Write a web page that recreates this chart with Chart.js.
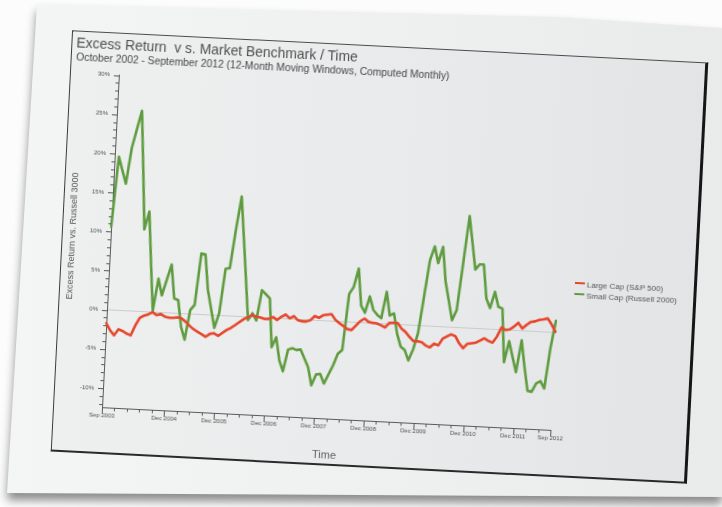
<!DOCTYPE html>
<html>
<head>
<meta charset="utf-8">
<title>Excess Return vs. Market Benchmark / Time</title>
<script src="https://cdn.jsdelivr.net/npm/chart.js@4/dist/chart.umd.min.js"></script>
<style>
  html, body { margin: 0; padding: 0; }
  body {
    width: 722px; height: 507px; overflow: hidden; position: relative;
    background: #fcfcfc;
    font-family: "Liberation Sans", Arial, sans-serif;
  }
  #sheetWrap {
    position: absolute; left: 0; top: 0; width: 722px; height: 507px;
    filter: drop-shadow(0 7px 5px rgba(0,0,0,0.45));
  }
  #sheet {
    position: absolute; left: 0; top: 0; width: 722px; height: 507px;
    background: linear-gradient(90deg, #f4f5f5 0%, #eeefef 60%, #e9eaea 100%);
    clip-path: polygon(37px 4px, 560px 17px, 722px 28px, 722px 497px, 717px 497px, 7px 493px);
  }
  #frame {
    position: absolute; left: 61px; top: 46px; width: 637px; height: 422px;
    box-sizing: border-box;
    border-left: 1px solid #3c3c3c;
    border-top: 1px solid #4c4c4c;
    border-right: 3px solid #161616;
    border-bottom: 2px solid #2a2a2a;
    background: linear-gradient(90deg, #eeefef 0%, #e9eaeb 55%, #e3e4e5 100%);
    transform: rotate(2.9deg);
    transform-origin: 50% 50%;
  }
  #chart { position: absolute; left: 0; top: 0; }
  .txt { position: absolute; white-space: nowrap; line-height: 1; }
  #title { left: 4px; top: 4.8px; font-size: 13.9px; color: #505050; }
  #subtitle { left: 4.5px; top: 21.2px; font-size: 10.3px; color: #474747; }
  #yTitle {
    left: -89.6px; top: 200px; width: 200px; text-align: center;
    font-size: 9px; color: #555; transform: rotate(-90deg);
  }
  #xTitle { left: 222px; top: 405px; width: 100px; text-align: center; font-size: 11px; color: #626262; }
  #legend { position: absolute; left: 514px; top: 221.5px; font-size: 8px; color: #555; }
  #legend div { height: 11px; line-height: 11px; white-space: nowrap; }
  #legend span.sw { display: inline-block; width: 10px; height: 2px; vertical-align: middle; margin-right: 2px; position: relative; top: -1px; }
</style>
</head>
<body>
<div id="sheetWrap"><div id="sheet"></div></div>
<div id="frame">
  <canvas id="chart" width="633" height="419"></canvas>
  <div class="txt" id="title">Excess Return&nbsp; v s. Market Benchmark / Time</div>
  <div class="txt" id="subtitle">October 2002 - September 2012 (12-Month Moving Windows, Computed Monthly)</div>
  <div class="txt" id="yTitle">Excess Return vs. Russell 3000</div>
  <div class="txt" id="xTitle">Time</div>
  <div id="legend"></div>
</div>
<script>
// Month categories: each point is a trailing 12-month window ending that month.
const monthNames = ["Jan","Feb","Mar","Apr","May","Jun","Jul","Aug","Sep","Oct","Nov","Dec"];
const months = [];
for (let y = 2003, m = 8; y < 2012 || (y === 2012 && m <= 8); ) {
  months.push(monthNames[m] + " " + y);
  m++; if (m === 12) { m = 0; y++; }
}

// Axis labels shown on the time axis
const tickLabels = ["Sep 2003","Dec 2004","Dec 2005","Dec 2006","Dec 2007",
                    "Dec 2008","Dec 2009","Dec 2010","Dec 2011","Sep 2012"];

const seriesNames = ["Large Cap (S&P 500)", "Small Cap (Russell 2000)"];
const seriesColors = ["#e6472c", "#5f9c3f"];

// Excess return (%) vs. Russell 3000, Sep 2003 .. Sep 2012
const largeCap = [
  -1.7, -2.6, -3.2, -2.4, -2.6, -2.9, -3.1, -1.8, -0.8, -0.5,
  -0.3,  0.0, -0.35, -0.2, -0.5, -0.6, -0.6, -0.5, -0.6, -1.0,
  -1.5, -1.9, -2.2, -2.5, -2.8, -2.4, -2.3, -2.6, -2.2, -1.8,
  -1.5, -1.1, -0.7, -0.3,  0.0,  0.25, 0.1,  0.0, -0.15, -0.1,
   0.15, -0.2, 0.25, 0.55, 0.1,  0.4, -0.1, -0.2, -0.2,  0.0,
   0.55, 0.35, 0.7,  0.8,  0.9,  0.2, -0.2, -0.55, -0.9, -1.0,
  -0.4,  0.2,  0.55, 0.15, 0.05, 0.0, -0.2, -0.45, 0.15, 0.2,
   0.2, -0.5, -0.9, -1.5, -2.0, -2.0, -2.1, -2.5, -2.7, -2.2,
  -2.4, -1.5, -1.2, -0.9, -1.1, -2.0, -2.6, -2.0, -1.9, -1.8,
  -1.5, -1.2, -1.5, -1.7, -0.9,  0.3,  0.0,  0.1,  0.5,  1.0,
   0.3,  0.8,  1.2,  1.3,  1.5,  1.6,  1.75, 1.0,  0.1
];
const smallCap = [
  10.6, 19.6, 17.9, 16.2, 20.8, 23.2, 25.6, 18.2, 10.5, 12.8,
   6.3,  0.2,  4.3,  2.2,  4.2,  6.2,  1.9,  1.7, -1.7, -3.3,
   0.5,  1.2,  7.8,  7.7,  3.2,  0.8, -1.6,  0.3,  6.0,  6.1,
  11.0, 15.3, 10.1,  4.9, -0.4,  0.5, -0.4,  3.5,  3.0,  2.5,
  -3.7, -2.4, -5.3, -6.7, -3.9, -3.7, -3.9, -3.8, -4.9, -6.0,
  -8.3, -6.9, -6.8, -8.0, -6.8, -5.6, -4.1, -3.6,  3.6,  4.5,
   6.9,  2.2,  1.3,  3.4,  1.7,  1.1,  0.7,  4.1,  1.1,  1.4,
  -1.2, -2.8, -3.2, -4.5, -3.1, -1.0,  3.7,  8.4, 10.2,  8.1,
  10.2,  5.8,  3.4,  0.9,  2.2,  8.2, 14.3, 10.9,  7.5,  8.2,
   8.2,  3.9,  2.7,  4.8,  2.9,  2.7, -4.1, -1.4, -3.4, -5.3,
  -1.2, -4.6, -7.6, -7.7, -6.6, -6.3, -7.2, -2.0,  1.5
];

// Legend
const legendEl = document.getElementById("legend");
seriesNames.forEach((name, i) => {
  const row = document.createElement("div");
  const sw = document.createElement("span");
  sw.className = "sw";
  sw.style.background = seriesColors[i];
  row.appendChild(sw);
  row.appendChild(document.createTextNode(name));
  legendEl.appendChild(row);
});

// Major / minor tick marks on both axes
const axisTicks = {
  id: "axisTicks",
  afterDraw(chart) {
    const { ctx, scales: { x, y } } = chart;
    ctx.save();
    ctx.strokeStyle = "#595959";
    ctx.lineWidth = 1;
    ctx.beginPath();
    for (let v = Math.ceil(y.min); v <= y.max; v++) {
      const py = Math.round(y.getPixelForValue(v)) + 0.5;
      const len = v % 5 === 0 ? 5 : 3;
      ctx.moveTo(y.right - len, py);
      ctx.lineTo(y.right, py);
    }
    months.forEach((m, i) => {
      if (i % 3 !== 0) return;
      const px = Math.round(x.getPixelForValue(i)) + 0.5;
      const len = tickLabels.includes(m) ? 6 : 3;
      ctx.moveTo(px, x.top);
      ctx.lineTo(px, x.top + len);
    });
    ctx.stroke();
    ctx.restore();
  }
};

const tickFont = { family: "'Liberation Sans', Arial, sans-serif", size: 6 };

new Chart(document.getElementById("chart"), {
  type: "line",
  data: {
    labels: months,
    datasets: [
      { label: seriesNames[0], data: largeCap, borderColor: seriesColors[0] },
      { label: seriesNames[1], data: smallCap, borderColor: seriesColors[1] }
    ].map(d => Object.assign(d, {
      borderWidth: 2.6, pointRadius: 0, tension: 0, fill: false,
      borderJoinStyle: "round", borderCapStyle: "round"
    }))
  },
  options: {
    responsive: false,
    animation: false,
    devicePixelRatio: 1,
    layout: { padding: { left: 0, top: 41.5, right: 136, bottom: 0 } },
    plugins: { legend: { display: false }, title: { display: false }, tooltip: { enabled: false } },
    scales: {
      x: {
        type: "category",
        offset: false,
        grid: { display: false, drawTicks: false },
        border: { display: true, color: "#5a5a5a", width: 1 },
        ticks: {
          autoSkip: false, maxRotation: 0, minRotation: 0, padding: 4,
          font: tickFont, color: "#505050",
          callback: (val, i) => tickLabels.includes(months[i]) ? months[i] : ""
        },
        afterFit(scale) { scale.height = 44.5; scale.paddingLeft = 0; scale.paddingRight = 0; }
      },
      y: {
        min: -12.5, max: 30,
        grid: {
          drawTicks: false,
          color: ctx => ctx.tick && ctx.tick.value === 0 ? "#cbcbcb" : "rgba(0,0,0,0)",
          lineWidth: 1
        },
        border: { display: true, color: "#5a5a5a", width: 1 },
        ticks: {
          stepSize: 1, autoSkip: false, padding: 9,
          font: tickFont, color: "#505050",
          callback: v => (v % 5 === 0 ? v + "%" : "")
        },
        afterFit(scale) { scale.width = 48; scale.paddingTop = 0; scale.paddingBottom = 0; }
      }
    }
  },
  plugins: [axisTicks]
});
</script>
</body>
</html>
